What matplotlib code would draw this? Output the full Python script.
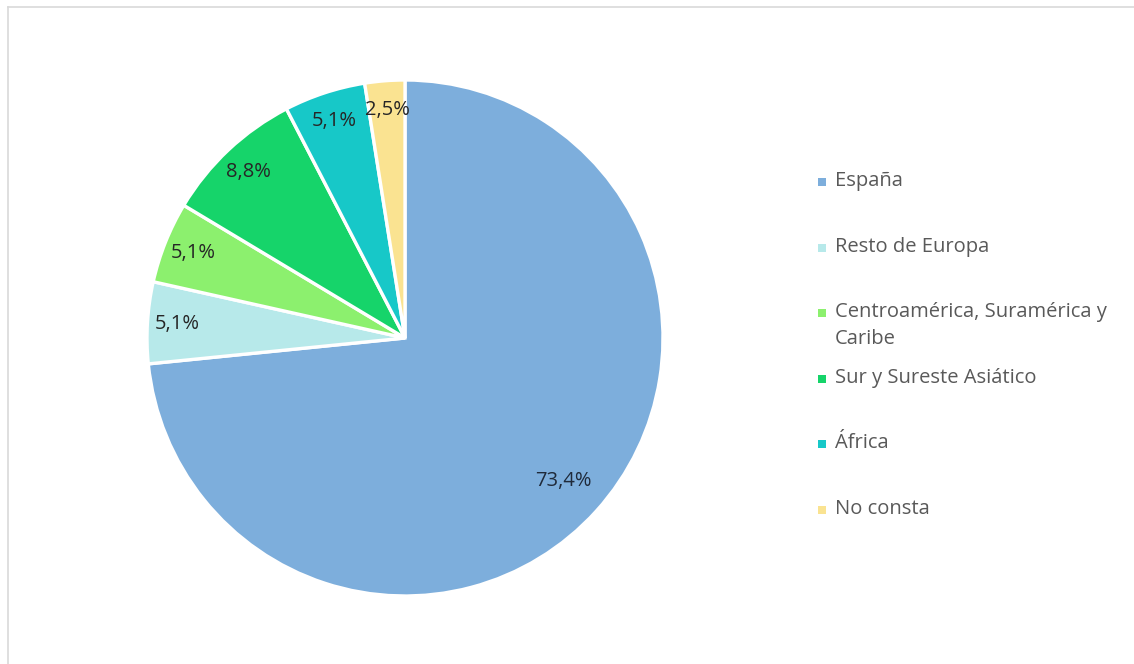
import numpy as np
import matplotlib.pyplot as plt
from matplotlib.patches import Rectangle
from matplotlib.lines import Line2D

plt.rcParams['font.family'] = ['Open Sans', 'DejaVu Sans']

# origen de la población
regiones = ['España', 'Resto de Europa', 'Centroamérica, Suramérica y\nCaribe',
            'Sur y Sureste Asiático', 'África', 'No consta']
porcentajes = [73.4, 5.1, 5.1, 8.8, 5.1, 2.5]
colores = ['#7DAEDC', '#B7E9EA', '#8CF06E', '#16D46A', '#17C8C8', '#FAE391']

W, H = 1134, 664
fig = plt.figure(figsize=(W / 100, H / 100), dpi=100)

# marco gris claro: solo se ven los bordes izquierdo y superior
fig.add_artist(Line2D([7.5 / W, 7.5 / W], [0, 1 - 6.5 / H], transform=fig.transFigure,
                      color='#D9D9D9', linewidth=1.2))
fig.add_artist(Line2D([7.5 / W, 1], [1 - 6.5 / H, 1 - 6.5 / H], transform=fig.transFigure,
                      color='#D9D9D9', linewidth=1.2))

cx, cy, r = 405, 338, 258
ax = fig.add_axes([(cx - r) / W, (H - cy - r) / H, 2 * r / W, 2 * r / H])

def etiqueta(p):
    return f'{p:.1f}'.replace('.', ',') + '%'

wedges, textos, autotextos = ax.pie(
    porcentajes, colors=colores, startangle=90, counterclock=False,
    autopct=etiqueta, pctdistance=0.885,
    wedgeprops=dict(edgecolor='white', linewidth=2.4),
    textprops=dict(fontsize=14.5, color='#262626'))
ax.set_xlim(-1, 1)
ax.set_ylim(-1, 1)
ax.set_aspect('equal')

# la etiqueta grande va más hacia dentro
w0 = wedges[0]
ang = np.deg2rad((w0.theta1 + w0.theta2) / 2)
autotextos[0].set_position((0.825 * np.cos(ang), 0.825 * np.sin(ang)))
autotextos[0].set_color('#1F2A3A')

# leyenda
y0, paso = 182, 65.6
for i, (reg, col) in enumerate(zip(regiones, colores)):
    y = y0 + i * paso
    fig.patches.append(Rectangle((818 / W, 1 - (y + 4) / H), 8 / W, 8 / H,
                                 transform=fig.transFigure, facecolor=col, edgecolor='none'))
    fig.text(835 / W, 1 - (y - 11) / H, reg, fontsize=14.5, color='#595959',
             va='top', ha='left', linespacing=1.45)

fig.savefig('out.png', dpi=100)
